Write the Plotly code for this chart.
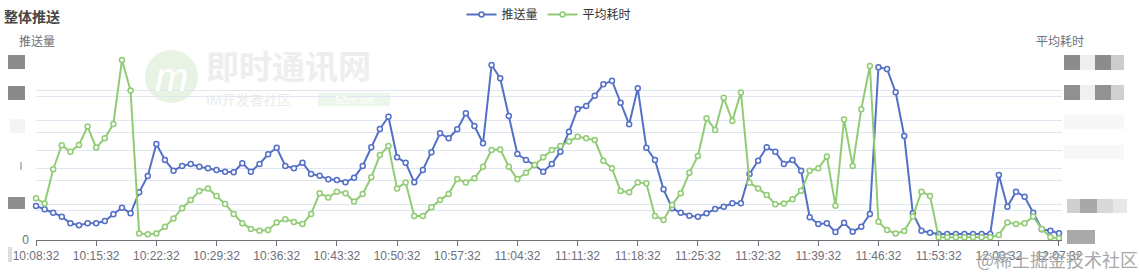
import plotly.graph_objects as go

# ---------------- data ----------------
start_h, start_m = 10, 8
times = []
for k in range(120):
    tot = start_h * 60 + start_m + k
    times.append(f"{tot // 60:02d}:{tot % 60:02d}:32")

tick_labels = ["10:08:32", "10:15:32", "10:22:32", "10:29:32", "10:36:32", "10:43:32",
               "10:50:32", "10:57:32", "11:04:32", "11:11:32", "11:18:32", "11:25:32",
               "11:32:32", "11:39:32", "11:46:32", "11:53:32", "12:00:32", "12:07:32"]

push_count = [944, 853, 758, 647, 464, 408, 464, 464, 528, 714, 897, 742, 1325, 1778, 2667, 2222,
              1925, 2056, 2111, 2036, 1992, 1944, 1897, 1881, 2131, 1897, 2111, 2381, 2564, 2056,
              1992, 2147, 1833, 1786, 1686, 1667, 1603, 1731, 2056, 2575, 3083, 3425, 2297, 2147,
              1603, 1944, 2436, 2964, 2825, 3075, 3519, 3167, 2686, 4861, 4492, 3444, 2389, 2222,
              2083, 1897, 2111, 2453, 3008, 3639, 3722, 4008, 4325, 4425, 3814, 3214, 4214, 2564,
              2222, 1408, 881, 758, 675, 647, 742, 861, 925, 1019, 1019, 1833, 2203, 2575, 2453,
              2111, 2222, 1925, 631, 444, 464, 222, 481, 231, 369, 722, 4797, 4750, 4103, 2889,
              742, 258, 203, 167, 167, 167, 167, 167, 167, 167, 1806, 925, 1342, 1203, 758, 297,
              258, 186]

avg_cost = [139, 122, 236, 316, 294, 317, 378, 308, 339, 387, 600, 498, 22, 19, 22, 44, 72, 106,
            133, 163, 172, 147, 120, 87, 56, 37, 31, 33, 58, 69, 60, 53, 87, 156, 142, 161, 156,
            128, 153, 209, 283, 313, 172, 192, 80, 80, 109, 133, 153, 203, 192, 206, 244, 300,
            302, 244, 203, 224, 250, 276, 300, 313, 328, 344, 339, 333, 264, 239, 163, 159, 192,
            189, 80, 67, 117, 156, 224, 280, 406, 367, 474, 397, 492, 191, 172, 150, 119, 122,
            136, 164, 231, 239, 278, 114, 402, 247, 436, 580, 61, 33, 22, 30, 78, 161, 147, 9, 9,
            9, 9, 9, 9, 9, 17, 58, 53, 56, 78, 37, 9, 6]

left_ticks = [0, 1000, 2000, 3000, 4000, 5000]
right_ticks = [0, 100, 200, 300, 400, 500, 600]

# ---------------- layout helpers ----------------
W, H = 1139, 275
L, R, T, B = 36, 1062, 60, 240


def px(x):
    return (x - L) / (R - L)


def py(y):
    return (B - y) / (B - T)


FONT = "Helvetica Neue, Helvetica, Arial, Liberation Sans, Noto Sans CJK SC, sans-serif"
BLUE = "#5470c6"
GREEN = "#91cc75"
AXIS = "#6e7079"
GRID = "#e0e6f1"

fig = go.Figure()
fig.add_trace(go.Scatter(
    x=times, y=push_count, name="推送量", mode="lines+markers",
    line=dict(color=BLUE, width=2),
    marker=dict(symbol="circle", size=5, color="white", line=dict(color=BLUE, width=1.5)),
    cliponaxis=False, yaxis="y"))
fig.add_trace(go.Scatter(
    x=times, y=avg_cost, name="平均耗时", mode="lines+markers",
    line=dict(color=GREEN, width=2),
    marker=dict(symbol="circle", size=5, color="white", line=dict(color=GREEN, width=1.5)),
    cliponaxis=False, yaxis="y2"))

shapes = []
# obscured tick value blocks
left_blocks = [(8, 25, 55, 69, "#8c8c8c"), (8, 25, 86, 100, "#8a8a8a"),
               (10, 25, 119, 133, "#f4f4f4"), (20, 22, 162, 170, "#c0c0c0"),
               (8, 25, 197, 209, "#8e8e8e"), (8, 12, 247, 262, "#dddddd")]
right_blocks = [(1064, 1080, 55, 70, "#8c8c8c"), (1080, 1095, 55, 70, "#eeeeee"),
                (1095, 1111, 55, 70, "#8c8c8c"), (1111, 1124, 55, 70, "#cccccc"),
                (1064, 1080, 85, 100, "#909090"), (1080, 1095, 85, 100, "#f0f0f0"),
                (1095, 1111, 85, 100, "#929292"), (1111, 1124, 85, 100, "#d0d0d0"),
                (1064, 1124, 115, 129, "#f7f7f7"), (1064, 1124, 145, 159, "#f8f8f8"),
                (1067, 1080, 199, 213, "#cfcfcf"), (1080, 1097, 199, 213, "#a8a8a8"),
                (1097, 1113, 199, 213, "#d8d8d8"), (1113, 1127, 199, 213, "#e8e8e8"),
                (1067, 1095, 230, 244, "#a9a9a9")]
for x0, x1, y0, y1, c in left_blocks + right_blocks:
    shapes.append(dict(type="rect", xref="paper", yref="paper",
                       x0=px(x0), x1=px(x1), y0=py(y1), y1=py(y0),
                       fillcolor=c, line=dict(width=0), layer="above"))
# faint watermark logo
shapes.append(dict(type="circle", xref="paper", yref="paper",
                   x0=px(145), x1=px(198), y0=py(103), y1=py(50),
                   fillcolor="#e8f3e3", line=dict(width=0), layer="below"))
shapes.append(dict(type="rect", xref="paper", yref="paper",
                   x0=px(318), x1=px(390), y0=py(106), y1=py(93),
                   fillcolor="#edf6ea", line=dict(width=0), layer="below"))

annotations = [
    dict(text="<b>整体推送</b>", x=px(2), y=py(17), xref="paper", yref="paper",
         xanchor="left", yanchor="middle", showarrow=False,
         font=dict(size=14, color="#464646", family=FONT)),
    dict(text="推送量", x=px(37), y=py(42), xref="paper", yref="paper",
         xanchor="center", yanchor="middle", showarrow=False,
         font=dict(size=12, color=AXIS, family=FONT)),
    dict(text="平均耗时", x=px(1060), y=py(42), xref="paper", yref="paper",
         xanchor="center", yanchor="middle", showarrow=False,
         font=dict(size=12, color=AXIS, family=FONT)),
    dict(text="<i>m</i>", x=px(171), y=py(77), xref="paper", yref="paper",
         xanchor="center", yanchor="middle", showarrow=False,
         font=dict(size=40, color="#ffffff", family=FONT)),
    dict(text="<b>即时通讯网</b>", x=px(204), y=py(68), xref="paper", yref="paper",
         xanchor="left", yanchor="middle", showarrow=False,
         font=dict(size=33, color="#eeeeee", family=FONT)),
    dict(text="IM开发者社区", x=px(204), y=py(100), xref="paper", yref="paper",
         xanchor="left", yanchor="middle", showarrow=False,
         font=dict(size=14, color="#ececec", family=FONT)),
    dict(text="52im.net", x=px(354), y=py(100), xref="paper", yref="paper",
         xanchor="center", yanchor="middle", showarrow=False,
         font=dict(size=10, color="#ffffff", family=FONT)),
    dict(text="@稀土掘金技术社区", x=px(975), y=py(259), xref="paper", yref="paper",
         xanchor="left", yanchor="middle", showarrow=False,
         font=dict(size=18, color="#a8a8a8", family="Noto Sans CJK SC")),
]

fig.update_layout(
    width=W, height=H,
    margin=dict(l=L, r=W - R, t=T, b=H - B, pad=0, autoexpand=False),
    paper_bgcolor="white", plot_bgcolor="white",
    font=dict(family=FONT, size=12, color=AXIS),
    showlegend=True,
    legend=dict(orientation="h", x=px(549), xanchor="center",
                yref="container", y=1.0, yanchor="top",
                font=dict(size=12, color="#333333", family=FONT),
                bgcolor="rgba(0,0,0,0)", itemwidth=30),
    xaxis=dict(type="category", categoryorder="array", categoryarray=times,
               range=[0, 119.35], tickmode="array", tickvals=tick_labels, ticktext=tick_labels,
               showgrid=False, showline=True, linecolor=AXIS, linewidth=1,
               ticks="outside", ticklen=5, tickcolor=AXIS,
               tickfont=dict(size=12, color=AXIS), zeroline=False, fixedrange=True),
    yaxis=dict(range=[0, 5000], tickmode="array", tickvals=left_ticks,
               ticktext=["0"] + [""] * (len(left_ticks) - 1),
               showgrid=True, gridcolor=GRID, gridwidth=1, zeroline=False, showline=False,
               ticks="", ticklabelstandoff=6, tickfont=dict(size=12, color=AXIS)),
    yaxis2=dict(range=[0, 600], overlaying="y", side="right", tickmode="array",
                tickvals=right_ticks, showticklabels=False,
                showgrid=True, gridcolor=GRID, gridwidth=1, zeroline=False, showline=False,
                ticks=""),
    shapes=shapes, annotations=annotations,
)

fig.write_html("out.html")
